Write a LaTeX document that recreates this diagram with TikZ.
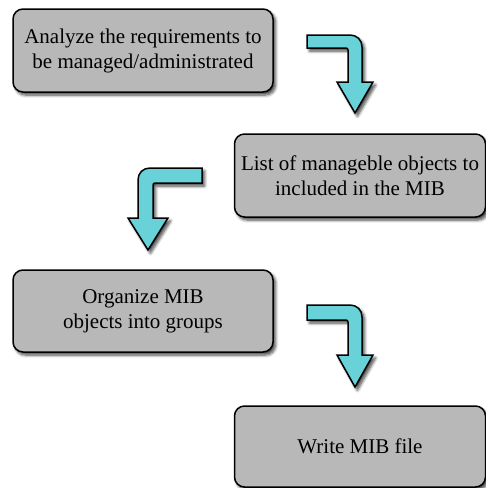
\documentclass[tikz,border=0pt]{standalone}
\usepackage{fontspec}
\setmainfont{Liberation Serif}
\usetikzlibrary{shadows.blur}
\definecolor{boxgray}{HTML}{B8B8B8}
\definecolor{arrowcyan}{HTML}{68D2D8}
\tikzset{
  softshadow/.style={blur shadow={shadow blur steps=6, shadow xshift=2.5pt, shadow yshift=-3pt, shadow blur radius=3pt, shadow opacity=75}},
  stepbox/.style={draw=black, line width=1.5pt, fill=boxgray, rounded corners=10pt,
    softshadow, align=center, inner sep=0pt,
    font=\fontsize{21}{25}\selectfont},
  bentarrow/.style={draw=black, line width=1.5pt, fill=arrowcyan, line join=miter, softshadow},
}
\begin{document}
\begin{tikzpicture}[x=1pt, y=-1pt]
  \useasboundingbox (0,0) rectangle (486,488);

  % process steps
  \node[stepbox, minimum width=260pt, minimum height=83pt] (analyze) at (143,50.5)
    {Analyze the requirements to\\be managed/administrated};
  \node[stepbox, minimum width=251pt, minimum height=83pt] (list) at (360,175.5)
    {List of manageble objects to\\included in the MIB};
  \node[stepbox, minimum width=260pt, minimum height=82pt] (organize) at (143,311)
    {Organize MIB\\objects into groups};
  \node[stepbox, minimum width=251pt, minimum height=81pt] (write) at (360,446.5)
    {Write MIB file};

  % bent arrow: right then down
  \draw[bentarrow] (307,35) -- (350,35) .. controls (357,35) and (362,40) .. (362,47)
    -- (362,82) -- (373,82) -- (355,113) -- (337,82) -- (348,82) -- (348,50)
    .. controls (348,49) and (347,48) .. (346,48) -- (307,48) -- cycle;

  % bent arrow: left then down
  \draw[bentarrow] (202,168) -- (150,168) .. controls (143,168) and (138,173) .. (138,180)
    -- (138,218) -- (128,218) -- (148,250) -- (168,218) -- (153,218) -- (153,185)
    .. controls (153,184) and (154,183) .. (155,183) -- (202,183) -- cycle;

  % bent arrow: right then down
  \draw[bentarrow] (307,305) -- (350,305) .. controls (357,305) and (362,310) .. (362,317)
    -- (362,355) -- (373,355) -- (355,387) -- (337,355) -- (348,355) -- (348,322)
    .. controls (348,321) and (347,320) .. (346,320) -- (307,320) -- cycle;
\end{tikzpicture}
\end{document}
